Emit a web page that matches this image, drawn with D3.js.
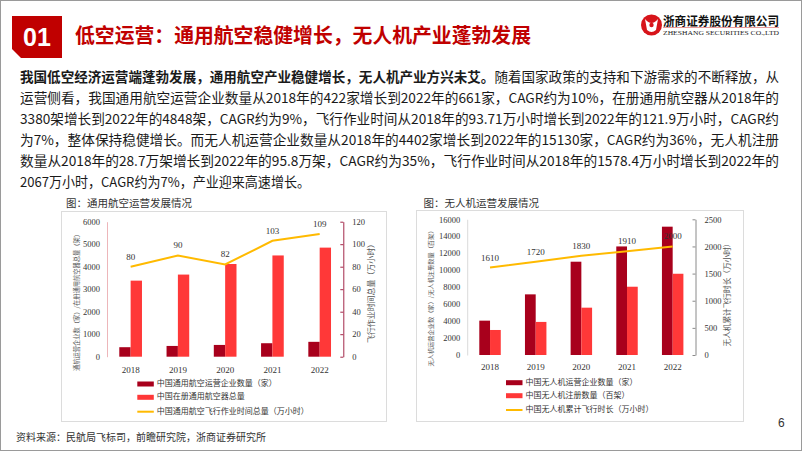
<!DOCTYPE html>
<html><head><meta charset="utf-8">
<script src="https://cdn.jsdelivr.net/npm/d3@7"></script>
<style>
html,body{margin:0;padding:0;background:#fff;}
svg{display:block;}
</style></head>
<body>
<svg id="s" width="802" height="451"></svg>
<script>
// ---------- data ----------
const years = ['2018','2019','2020','2021','2022'];
const gaCompanies = [422, 478, 523, 599, 661];
const gaAircraft = [3380, 3650, 4120, 4500, 4848];
const gaHours = [80, 90, 82, 103, 109];
const uavCompanies = [4050, 7150, 11000, 12800, 15130];
const uavRegistered = [2950, 3900, 5580, 8050, 9580];
const uavHours = [1610, 1720, 1830, 1910, 2000];
const gaLeftTicks = [0,1000,2000,3000,4000,5000,6000];
const gaRightTicks = [0,20,40,60,80,100,120];
const uavLeftTicks = [0,2000,4000,6000,8000,10000,12000,14000,16000];
const uavRightTicks = [0,500,1000,1500,2000,2500];
const gaLegend = ['中国通用航空运营企业数量（家）','中国在册通用航空器总量','中国通用航空飞行作业时间总量（万小时）'];
const uavLegend = ['中国无人机运营企业数量（家）','中国无人机注册数量（百架）','中国无人机累计飞行时长（万小时）'];
const paraLines = [
  ['我国低空经济运营端蓬勃发展，通用航空产业稳健增长，无人机产业方兴未艾。','随着国家政策的支持和下游需求的不断释放，从'],
  ['','运营侧看，我国通用航空运营企业数量从2018年的422家增长到2022年的661家，CAGR约为10%，在册通用航空器从2018年的'],
  ['','3380架增长到2022年的4848架，CAGR约为9%，飞行作业时间从2018年的93.71万小时增长到2022年的121.9万小时，CAGR约'],
  ['','为7%，整体保持稳健增长。而无人机运营企业数量从2018年的4402家增长到2022年的15130家，CAGR约为36%，无人机注册'],
  ['','数量从2018年的28.7万架增长到2022年的95.8万架，CAGR约为35%，飞行作业时间从2018年的1578.4万小时增长到2022年的'],
  ['','2067万小时，CAGR约为7%，产业迎来高速增长。']
];

const CJK = '"Noto Sans CJK SC","Noto Sans",sans-serif';
const SERIF = '"Liberation Serif","DejaVu Serif",serif';
const DARK = '#A8001C', LIGHT = '#FF3838', GOLD = '#FFBA00';

const svg = d3.select('#s');
svg.append('rect').attr('x',0.5).attr('y',0.5).attr('width',801).attr('height',450)
  .attr('fill','#fff').attr('stroke','#9a9a9a');

// ---------- header ----------
svg.append('polygon').attr('points','12,16 62,16 62,58 21,58 12,49').attr('fill','#C00000');
svg.append('text').attr('x',37).attr('y',45.5).attr('text-anchor','middle')
  .attr('font-family','"Liberation Sans",Arial,sans-serif').attr('font-weight','bold')
  .attr('font-size',25).attr('fill','#fff').text('01');
svg.append('text').attr('x',75).attr('y',43).attr('font-family',CJK).attr('font-weight','bold')
  .attr('font-size',20).attr('fill','#C00000')
  .attr('textLength',456).attr('lengthAdjust','spacingAndGlyphs')
  .text('低空运营：通用航空稳健增长，无人机产业蓬勃发展');

// logo
const lg = svg.append('g');
lg.append('circle').attr('cx',651.5).attr('cy',25).attr('r',10.5).attr('fill','#D7141A');
lg.append('path').attr('d','M645,19 Q651.5,27 658,19 L656,30 Q651.5,34 647,30 Z').attr('fill','#fff');
lg.append('circle').attr('cx',651.5).attr('cy',25).attr('r',2.2).attr('fill','#D7141A');
lg.append('text').attr('x',663).attr('y',26).attr('font-family',CJK).attr('font-weight','bold')
  .attr('font-size',12.5).attr('fill','#111').attr('textLength',116).attr('lengthAdjust','spacingAndGlyphs')
  .text('浙商证券股份有限公司');
lg.append('line').attr('x1',663).attr('x2',779).attr('y1',27.5).attr('y2',27.5).attr('stroke','#E58080').attr('stroke-width',0.8);
lg.append('text').attr('x',663).attr('y',34.5).attr('font-family',SERIF)
  .attr('font-size',6.5).attr('fill','#222').attr('textLength',116).attr('lengthAdjust','spacingAndGlyphs')
  .text('ZHESHANG SECURITIES CO.,LTD');

// ---------- paragraph ----------
const lineY = [82, 103, 124, 145, 166, 187];
paraLines.forEach((ln,i)=>{
  const t = svg.append('text').attr('x',20).attr('y',lineY[i])
    .attr('font-family',CJK).attr('font-size',13.5).attr('fill','#1a1a1a')
    .attr('textLength', i<5 ? 759 : 290).attr('lengthAdjust','spacingAndGlyphs');
  if(ln[0]) t.append('tspan').attr('font-weight','bold').text(ln[0]);
  t.append('tspan').text(ln[1]);
});

// ---------- chart builder ----------
function chart(cfg){
  const g = svg.append('g');
  g.append('text').attr('x',cfg.titleX).attr('y',206.5).attr('font-family',CJK)
    .attr('font-size',10.5).attr('fill','#333').text(cfg.title);
  g.append('rect').attr('x',cfg.box[0]).attr('y',cfg.box[1]).attr('width',cfg.box[2]-cfg.box[0])
    .attr('height',cfg.box[3]-cfg.box[1]).attr('fill','none').attr('stroke','#dcdcdc');

  const x = d3.scaleBand().domain(years).range([cfg.x0,cfg.x1]).padding(0);
  const bw = x.bandwidth();
  const sub = d3.scaleBand().domain(['a','b']).range([-bw*cfg.barFrac, bw*cfg.barFrac]);
  const yL = d3.scaleLinear().domain([0,cfg.leftMax]).range([cfg.yB,cfg.yT]);
  const yR = d3.scaleLinear().domain([0,cfg.rightMax]).range([cfg.yB,cfg.yT]);
  const cx = d => x(d)+bw/2;

  // left axis
  const la = d3.axisLeft(yL).tickValues(cfg.leftTicks).tickSize(cfg.leftTickSize).tickPadding(cfg.leftPad).tickFormat(d3.format('d'));
  const lag = g.append('g').attr('transform',`translate(${cfg.x0},0)`).call(la);
  lag.select('.domain').attr('stroke',cfg.leftAxisColor).attr('stroke-width',0.8);
  lag.selectAll('.tick line').attr('stroke',cfg.leftAxisColor).attr('stroke-width',0.8);
  lag.selectAll('text').attr('font-family',SERIF).attr('font-size',8.5).attr('fill','#333');
  // right axis
  const ra = d3.axisRight(yR).tickValues(cfg.rightTicks).tickSizeInner(-3).tickSizeOuter(0).tickPadding(9).tickFormat(d3.format('d'));
  const rag = g.append('g').attr('transform',`translate(${cfg.x1},0)`).call(ra);
  rag.select('.domain').attr('stroke',cfg.rightAxisColor).attr('stroke-width',1);
  rag.selectAll('.tick line').attr('stroke',cfg.rightAxisColor).attr('stroke-width',1);
  rag.selectAll('text').attr('font-family',SERIF).attr('font-size',8.5).attr('fill','#333');
  // x labels
  const xa = d3.axisBottom(x).tickSize(0).tickPadding(cfg.xPad);
  const xag = g.append('g').attr('transform',`translate(0,${cfg.yB})`).call(xa);
  xag.select('.domain').remove();
  xag.selectAll('text').attr('font-family',SERIF).attr('font-size',9).attr('fill','#333');

  // bars
  g.append('g').selectAll('rect').data(years).join('rect')
    .attr('x',d=>cx(d)+sub('a')).attr('width',sub.bandwidth())
    .attr('y',(d,i)=>yL(cfg.s1[i])).attr('height',(d,i)=>cfg.yB-yL(cfg.s1[i])).attr('fill',DARK);
  g.append('g').selectAll('rect').data(years).join('rect')
    .attr('x',d=>cx(d)+sub('b')).attr('width',sub.bandwidth())
    .attr('y',(d,i)=>yL(cfg.s2[i])).attr('height',(d,i)=>cfg.yB-yL(cfg.s2[i])).attr('fill',LIGHT);
  // line
  const line = d3.line().x((d,i)=>cx(years[i])).y(d=>yR(d));
  g.append('path').datum(cfg.s3).attr('d',line).attr('fill','none').attr('stroke',GOLD).attr('stroke-width',2);
  g.append('g').selectAll('text').data(cfg.s3).join('text')
    .attr('x',(d,i)=>cx(years[i])).attr('y',d=>yR(d)-7).attr('text-anchor','middle')
    .attr('font-family',SERIF).attr('font-size',9).attr('fill','#333').text(d=>d);

  // axis titles
  const at = (xx,yy,len,fs,txt)=> g.append('text').attr('transform',`translate(${xx},${yy}) rotate(-90)`)
    .attr('text-anchor','middle').attr('dominant-baseline','middle').attr('font-family',CJK)
    .attr('font-size',fs).attr('fill','#555').attr('textLength',len).attr('lengthAdjust','spacingAndGlyphs').text(txt);
  at(cfg.lt[0],cfg.lt[1],cfg.lt[2],cfg.lt[3],cfg.leftTitle);
  at(cfg.rt[0],cfg.rt[1],cfg.rt[2],cfg.rt[3],cfg.rightTitle);

  // legend
  const colors = [DARK, LIGHT, GOLD];
  cfg.legend.forEach((t,i)=>{
    const yy = cfg.legY[i];
    g.append('rect').attr('x',cfg.legX).attr('y',yy-(i<2?2.5:1)).attr('width',16.5).attr('height',i<2?5:2).attr('fill',colors[i]);
    g.append('text').attr('x',cfg.legX+19.5).attr('y',yy).attr('dominant-baseline','middle')
      .attr('font-family',CJK).attr('font-size',8).attr('fill','#333').text(t);
  });
}

chart({
  title:'图：通用航空运营发展情况', titleX:66, box:[61.5,211.5,386.5,421.5],
  x0:107, x1:343.3, yT:221.7, yB:356.7, barFrac:0.24,
  leftMax:6000, rightMax:120, leftTicks:gaLeftTicks, rightTicks:gaRightTicks,
  leftAxisColor:'#E9A3A8', rightAxisColor:'#A3294A', leftTickSize:0, leftPad:7, xPad:10,
  s1:gaCompanies, s2:gaAircraft, s3:gaHours,
  leftTitle:'通航运营企业数（家）/在册通用航空器总量（架）', rightTitle:'飞行作业时间总量（万小时）',
  lt:[77,301,140,6.5], rt:[371.5,291.5,103,8],
  legend:gaLegend, legX:137.3, legY:[384,397.3,411.7]
});
chart({
  title:'图：无人机运营发展情况', titleX:423.5, box:[416.5,210.5,743.5,421.5],
  x0:467.2, x1:695.5, yT:219.3, yB:355, barFrac:0.235,
  leftMax:16000, rightMax:2500, leftTicks:uavLeftTicks, rightTicks:uavRightTicks,
  leftAxisColor:'#cfcfcf', rightAxisColor:'#8a8a8a', leftTickSize:0, leftPad:7, xPad:9,
  s1:uavCompanies, s2:uavRegistered, s3:uavHours,
  leftTitle:'无人机运营企业数（家）/无人机注册数量（百架）', rightTitle:'无人机累计飞行时长（万小时）',
  lt:[431.7,297,139,6], rt:[728.3,293,107,7.6],
  legend:uavLegend, legX:506, legY:[382.7,395.7,410]
});

// ---------- footer ----------
svg.append('text').attr('x',778).attr('y',427).attr('font-family','"Liberation Sans",Arial,sans-serif')
  .attr('font-size',12).attr('fill','#333').text('6');
svg.append('text').attr('x',16).attr('y',441).attr('font-family',CJK).attr('font-size',10.5)
  .attr('fill','#333').attr('textLength',250).attr('lengthAdjust','spacingAndGlyphs')
  .text('资料来源：民航局飞标司，前瞻研究院，浙商证券研究所');
</script>
</body></html>
